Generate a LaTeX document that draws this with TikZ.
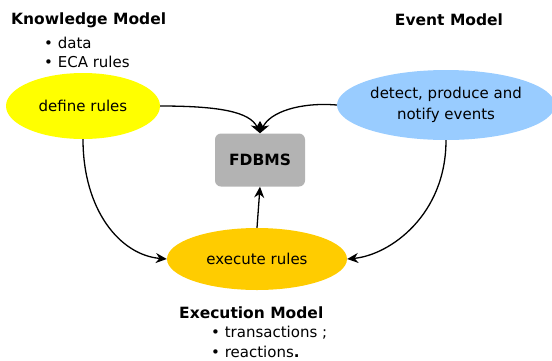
\documentclass[tikz,border=0pt]{standalone}
\usepackage{fontspec}
\setmainfont{DejaVu Sans}
\usetikzlibrary{arrows.meta,shapes.geometric}
\definecolor{ryellow}{HTML}{FFFF00}
\definecolor{rblue}{HTML}{99CCFF}
\definecolor{rgold}{HTML}{FFCC00}
\definecolor{rgray}{HTML}{B3B3B3}
\begin{document}
\begin{tikzpicture}[x=1pt,y=-1pt,
  every node/.style={font=\fontsize{15}{18}\selectfont},
  blob/.style={ellipse,inner sep=0pt},
  heading/.style={font=\fontsize{15.5}{18}\selectfont\bfseries,anchor=west},
  item/.style={anchor=west,inner sep=0pt},
  link/.style={-{Stealth[length=11pt,width=10pt]},line width=1.3pt}]
\useasboundingbox (0,0) rectangle (552,360);
\node[blob,fill=ryellow,minimum width=154pt,minimum height=66pt] (def) at (83,106) {define rules};
\node[blob,fill=rblue,minimum width=218pt,minimum height=70pt,align=center,font=\fontsize{15}{21}\selectfont] (evt) at (446,105) {detect, produce and\\notify events};
\node[fill=rgray,rounded corners=6pt,minimum width=90pt,minimum height=53pt,font=\fontsize{15.5}{18}\selectfont\bfseries] (db) at (260,160) {FDBMS};
\node[blob,fill=rgold,minimum width=180pt,minimum height=62pt] (exe) at (257,259) {execute rules};

\node[heading,inner sep=0pt] (km) at (11,20) {Knowledge Model};
\node[item] (kd) at (44,43) {\textbullet\ data};
\node[item] (ke) at (44,62) {\textbullet\ ECA rules};
\node[heading,anchor=center] (em) at (449,20) {Event Model};
\node[heading,inner sep=0pt] (xm) at (179,313) {Execution Model};
\node[item] (xt) at (211,333) {\textbullet\ transactions ;};
\node[item] (xr) at (211,352) {\textbullet\ reactions\textbf{.}};

\draw[link] (def.east) .. controls (220,106) and (250,112) .. (db.north);
\draw[link] (evt.west) .. controls (300,102) and (270,112) .. (db.north);
\draw[link] (def.south) .. controls (83,210) and (120,255) .. (exe.west);
\draw[link] (evt.south) .. controls (446,215) and (390,255) .. (exe.east);
\draw[link] (exe.north) -- (db.south);
\end{tikzpicture}
\end{document}
